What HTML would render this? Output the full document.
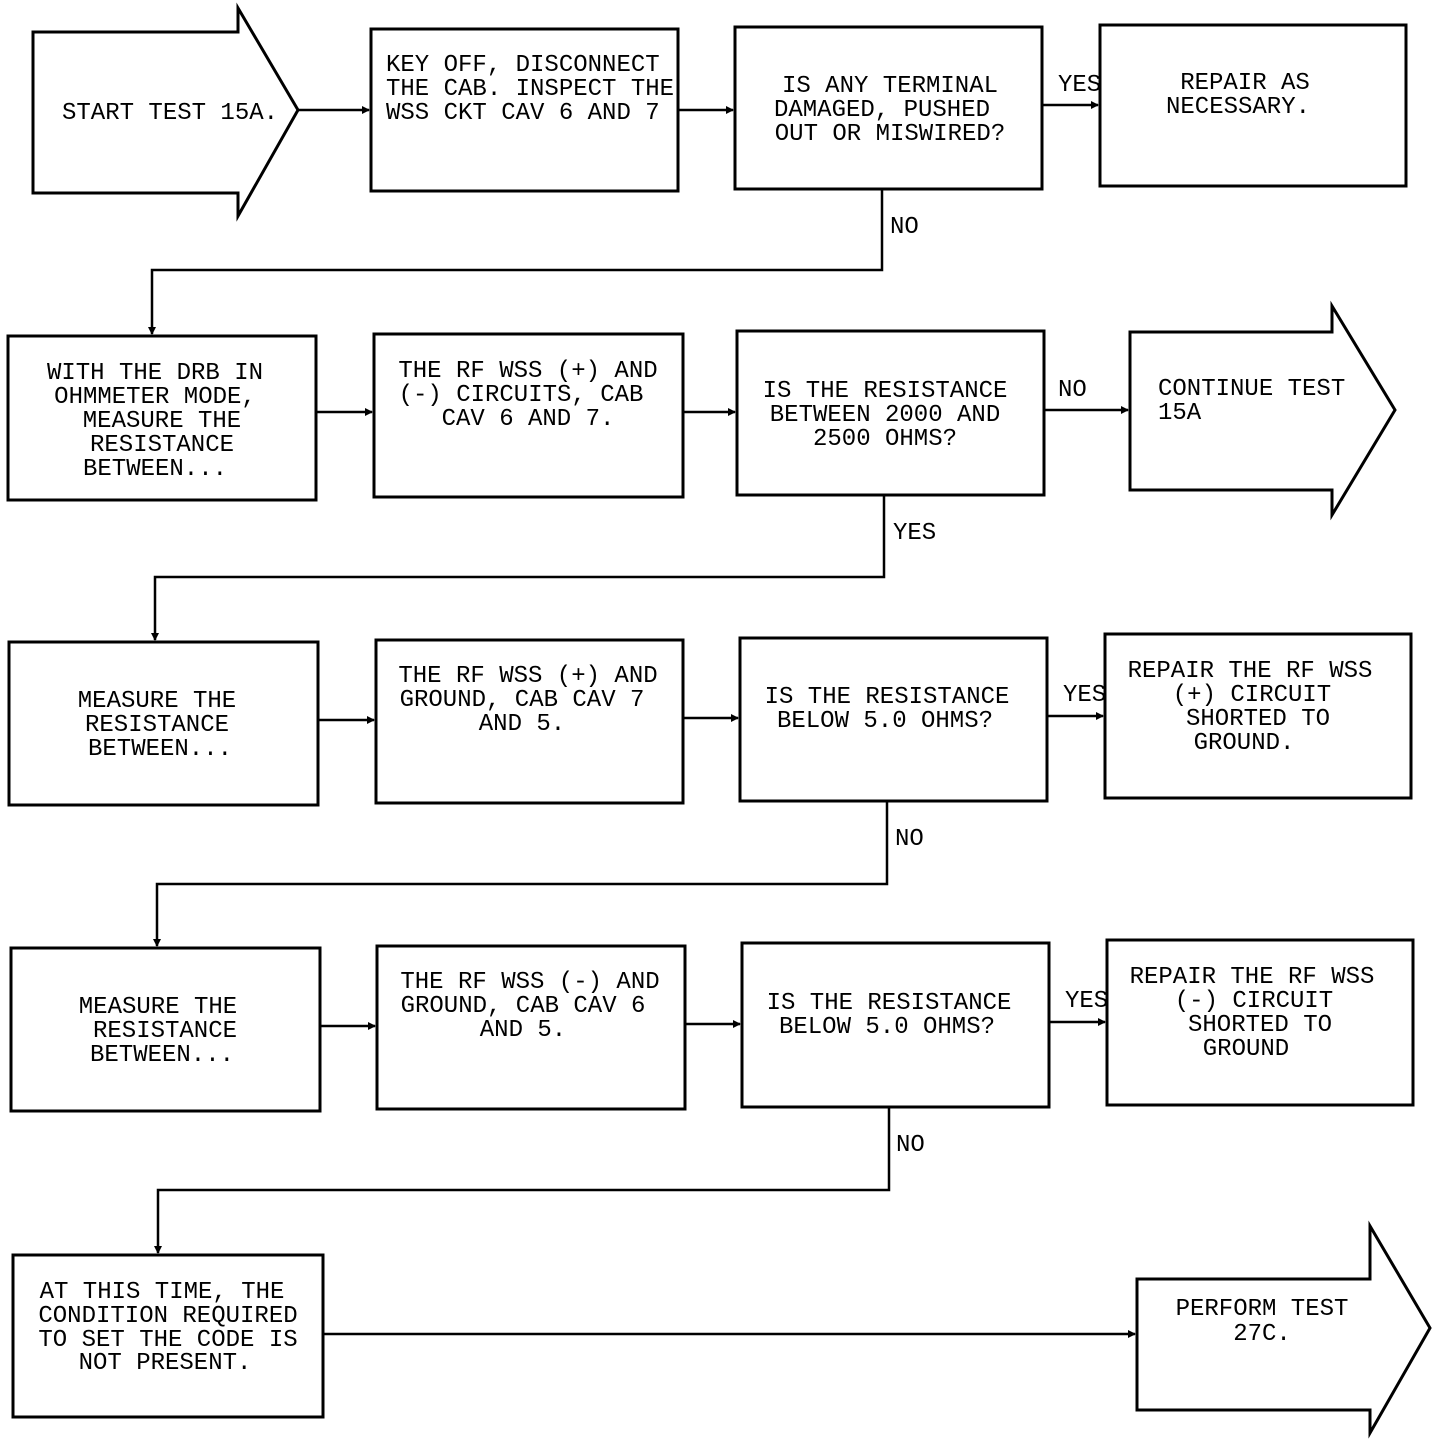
<!DOCTYPE html>
<html><head><style>body{margin:0;background:#fff}svg{display:block}
text{font-family:"Liberation Mono",monospace;font-size:24px;fill:#000}
.c{text-anchor:middle}</style></head><body>
<svg width="1440" height="1442" viewBox="0 0 1440 1442" xmlns="http://www.w3.org/2000/svg">
<defs><marker id="a" markerWidth="8" markerHeight="8" refX="7" refY="4" orient="auto" markerUnits="userSpaceOnUse"><path d="M0,0 L8,4 L0,8z" fill="#000"/></marker></defs>
<g fill="none" stroke="#000" stroke-width="3">
<path d="M33,32 H238 V8 L298,110 L238,216 V193 H33 Z"/>
<rect x="371" y="29" width="307" height="162"/>
<rect x="735" y="27" width="307" height="162"/>
<rect x="1100" y="25" width="306" height="161"/>
<rect x="8" y="336" width="308" height="164"/>
<rect x="374" y="334" width="309" height="163"/>
<rect x="737" y="331" width="307" height="164"/>
<path d="M1130,332 H1332 V306 L1395,410 L1332,515 V490 H1130 Z"/>
<rect x="9" y="642" width="309" height="163"/>
<rect x="376" y="640" width="307" height="163"/>
<rect x="740" y="638" width="307" height="163"/>
<rect x="1105" y="634" width="306" height="164"/>
<rect x="11" y="948" width="309" height="163"/>
<rect x="377" y="946" width="308" height="163"/>
<rect x="742" y="943" width="307" height="164"/>
<rect x="1107" y="940" width="306" height="165"/>
<rect x="13" y="1255" width="310" height="162"/>
<path d="M1137,1279 H1370 V1226 L1430,1328 L1370,1433 V1410 H1137 Z"/>
</g>
<g fill="none" stroke="#000" stroke-width="2.5" marker-end="url(#a)">
<path d="M298,110 H369"/>
<path d="M678,110 H733"/>
<path d="M1042,105 H1098"/>
<path d="M882,189 V270 H152 V334"/>
<path d="M316,412 H372"/>
<path d="M683,412 H735"/>
<path d="M1044,410 H1128"/>
<path d="M884,495 V577 H155 V640"/>
<path d="M318,720 H374"/>
<path d="M683,718 H738"/>
<path d="M1047,716 H1103"/>
<path d="M887,801 V884 H157 V946"/>
<path d="M320,1026 H375"/>
<path d="M685,1024 H740"/>
<path d="M1049,1022 H1105"/>
<path d="M889,1107 V1190 H158 V1253"/>
<path d="M323,1334 H1135"/>
</g>
<text x="62" y="119">START TEST 15A.</text>
<text x="386" y="71">KEY OFF, DISCONNECT</text>
<text x="386" y="95">THE CAB. INSPECT THE</text>
<text x="386" y="119">WSS CKT CAV 6 AND 7</text>
<text class="c" x="890" y="92">IS ANY TERMINAL</text>
<text class="c" x="882" y="116">DAMAGED, PUSHED</text>
<text class="c" x="890" y="140">OUT OR MISWIRED?</text>
<text x="1058" y="91">YES</text>
<text class="c" x="1245" y="89">REPAIR AS</text>
<text class="c" x="1238" y="113">NECESSARY.</text>
<text x="890" y="233">NO</text>
<text class="c" x="155" y="379">WITH THE DRB IN</text>
<text class="c" x="155" y="403">OHMMETER MODE,</text>
<text class="c" x="162" y="427">MEASURE THE</text>
<text class="c" x="162" y="451">RESISTANCE</text>
<text class="c" x="155" y="475">BETWEEN...</text>
<text class="c" x="528" y="377">THE RF WSS (+) AND</text>
<text class="c" x="521" y="401">(-) CIRCUITS, CAB</text>
<text class="c" x="528" y="425">CAV 6 AND 7.</text>
<text class="c" x="885" y="397">IS THE RESISTANCE</text>
<text class="c" x="885" y="421">BETWEEN 2000 AND</text>
<text class="c" x="885" y="445">2500 OHMS?</text>
<text x="1058" y="396">NO</text>
<text x="1158" y="395">CONTINUE TEST</text>
<text x="1158" y="419">15A</text>
<text x="893" y="539">YES</text>
<text class="c" x="157" y="707">MEASURE THE</text>
<text class="c" x="157" y="731">RESISTANCE</text>
<text class="c" x="160" y="755">BETWEEN...</text>
<text class="c" x="528" y="682">THE RF WSS (+) AND</text>
<text class="c" x="522" y="706">GROUND, CAB CAV 7</text>
<text class="c" x="522" y="730">AND 5.</text>
<text class="c" x="887" y="703">IS THE RESISTANCE</text>
<text class="c" x="885" y="727">BELOW 5.0 OHMS?</text>
<text x="1063" y="701">YES</text>
<text class="c" x="1250" y="677">REPAIR THE RF WSS</text>
<text class="c" x="1252" y="701">(+) CIRCUIT</text>
<text class="c" x="1258" y="725">SHORTED TO</text>
<text class="c" x="1244" y="749">GROUND.</text>
<text x="895" y="845">NO</text>
<text class="c" x="158" y="1013">MEASURE THE</text>
<text class="c" x="165" y="1037">RESISTANCE</text>
<text class="c" x="162" y="1061">BETWEEN...</text>
<text class="c" x="530" y="988">THE RF WSS (-) AND</text>
<text class="c" x="523" y="1012">GROUND, CAB CAV 6</text>
<text class="c" x="523" y="1036">AND 5.</text>
<text class="c" x="889" y="1009">IS THE RESISTANCE</text>
<text class="c" x="887" y="1033">BELOW 5.0 OHMS?</text>
<text x="1065" y="1007">YES</text>
<text class="c" x="1252" y="983">REPAIR THE RF WSS</text>
<text class="c" x="1254" y="1007">(-) CIRCUIT</text>
<text class="c" x="1260" y="1031">SHORTED TO</text>
<text class="c" x="1246" y="1055">GROUND</text>
<text x="896" y="1151">NO</text>
<text class="c" x="162" y="1298">AT THIS TIME, THE</text>
<text class="c" x="168" y="1322">CONDITION REQUIRED</text>
<text class="c" x="168" y="1346">TO SET THE CODE IS</text>
<text class="c" x="165" y="1369">NOT PRESENT.</text>
<text class="c" x="1262" y="1315">PERFORM TEST</text>
<text class="c" x="1262" y="1340">27C.</text>
</svg>
</body></html>
